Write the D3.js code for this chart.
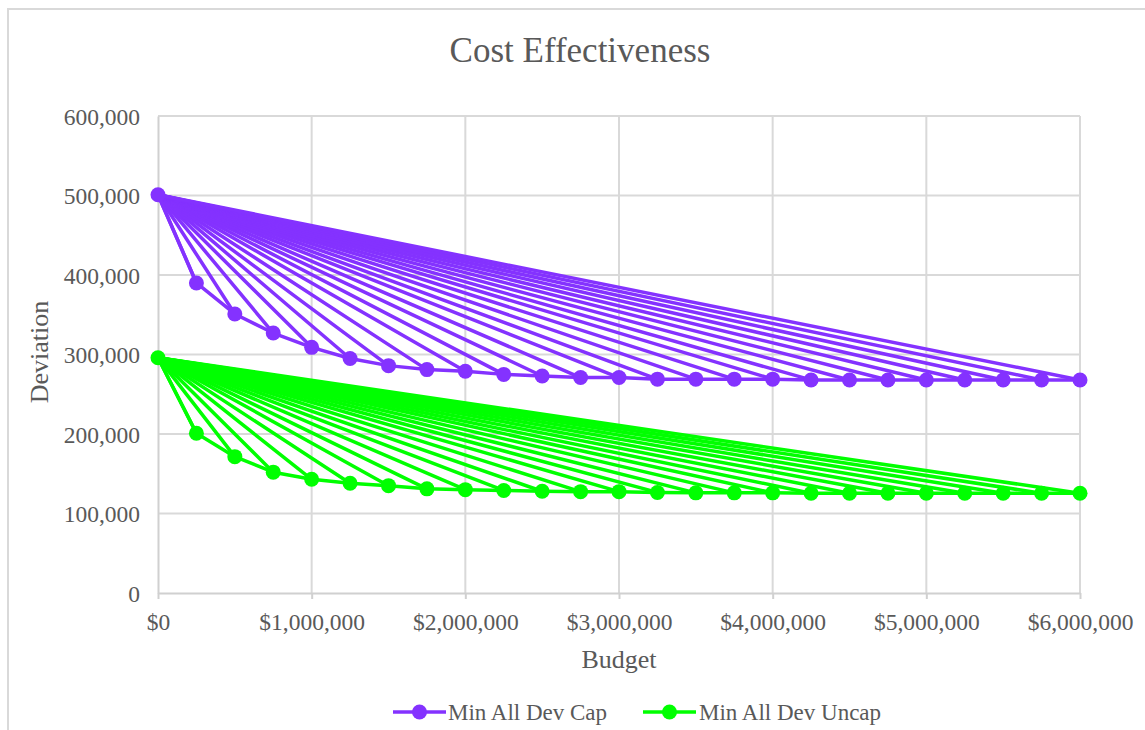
<!DOCTYPE html>
<html>
<head>
<meta charset="utf-8">
<script src="https://cdn.jsdelivr.net/npm/d3@7"></script>
<style>
  html, body { margin: 0; padding: 0; background: #fff; }
  svg { display: block; }
</style>
</head>
<body>
<svg id="chart" width="1145" height="730"></svg>
<script>
// ---- data ----
const budgets = [0, 250000, 500000, 750000, 1000000, 1250000, 1500000, 1750000, 2000000,
  2250000, 2500000, 2750000, 3000000, 3250000, 3500000, 3750000, 4000000, 4250000,
  4500000, 4750000, 5000000, 5250000, 5500000, 5750000, 6000000];
const capDev = [501000, 390000, 351000, 327000, 309000, 295000, 286000, 281000, 279000,
  275000, 273000, 271000, 271000, 269000, 269000, 269000, 269000, 268000,
  268000, 268000, 268000, 268000, 268000, 268000, 268000];
const uncapDev = [296000, 201000, 171500, 152000, 143000, 138000, 135000, 131000, 130000,
  129000, 128000, 127500, 127500, 126500, 126000, 126000, 126000, 125500,
  125500, 125500, 125500, 125500, 125500, 125500, 125500];
const seriesNames = ["Min All Dev Cap", "Min All Dev Uncap"];
const seriesColors = ["#8432FF", "#00FF00"];
const xTicks = [0, 1000000, 2000000, 3000000, 4000000, 5000000, 6000000];
const yTicks = [0, 100000, 200000, 300000, 400000, 500000, 600000];

// ---- layout ----
const FONT = "'Liberation Serif', 'Times New Roman', Times, serif";
const TXT = "#595959";
const svg = d3.select("#chart");
const plot = { left: 158, right: 1080, top: 116, bottom: 593 };
const x = d3.scaleLinear().domain([0, 6000000]).range([plot.left, plot.right]);
const y = d3.scaleLinear().domain([0, 600000]).range([plot.bottom, plot.top]);

function label(sel, size) {
  return sel.style("font-family", FONT).style("font-size", size + "px").style("fill", TXT);
}

// outer chart border
svg.append("rect").attr("x", 8).attr("y", 9).attr("width", 1160).attr("height", 760)
  .attr("fill", "none").attr("stroke", "#d9d9d9").attr("stroke-width", 2);

// title
label(svg.append("text").attr("x", 580).attr("y", 62).attr("text-anchor", "middle"), 35)
  .text("Cost Effectiveness");

// gridlines
const grid = svg.append("g");
grid.selectAll("line.h").data(yTicks.filter(d => d > 0)).enter().append("line")
  .attr("x1", plot.left).attr("x2", plot.right)
  .attr("y1", d => y(d)).attr("y2", d => y(d))
  .attr("stroke", "#d9d9d9").attr("stroke-width", 2);
grid.selectAll("line.v").data(xTicks.filter(d => d > 0)).enter().append("line")
  .attr("y1", plot.top).attr("y2", plot.bottom)
  .attr("x1", d => x(d)).attr("x2", d => x(d))
  .attr("stroke", "#d9d9d9").attr("stroke-width", 2);

// axes
const xAxis = svg.append("g").attr("transform", `translate(0,${plot.bottom})`)
  .call(d3.axisBottom(x).tickValues(xTicks).tickSize(6).tickSizeOuter(0)
    .tickFormat(d => "$" + d3.format(",")(d)));
xAxis.select(".domain").attr("stroke", "#d0d0d0").attr("stroke-width", 2);
xAxis.selectAll(".tick line").attr("stroke", "#d0d0d0").attr("stroke-width", 2);
label(xAxis.selectAll(".tick text").attr("y", 37).attr("dy", 0), 23.5);

const yAxis = svg.append("g").attr("transform", `translate(${plot.left},0)`)
  .call(d3.axisLeft(y).tickValues(yTicks).tickSize(0).tickSizeOuter(0)
    .tickFormat(d3.format(",")));
yAxis.select(".domain").attr("stroke", "#d0d0d0").attr("stroke-width", 2);
label(yAxis.selectAll(".tick text").attr("x", -18).attr("dy", "0.34em"), 23.5);

// axis titles
label(svg.append("text").attr("x", 619).attr("y", 668).attr("text-anchor", "middle"), 26)
  .text("Budget");
label(svg.append("text").attr("transform", "translate(48,352) rotate(-90)").attr("text-anchor", "middle"), 26)
  .text("Deviation");

// series
const line = d3.line().x(d => x(d[0])).y(d => y(d[1]));
[capDev, uncapDev].forEach((vals, si) => {
  const pts = budgets.map((b, i) => [b, vals[i]]);
  const g = svg.append("g");
  const color = seriesColors[si];
  // spokes from origin point to each budget point
  pts.slice(1).forEach(p => {
    g.append("path").attr("d", line([pts[0], p])).attr("fill", "none")
      .attr("stroke", color).attr("stroke-width", 3.5).attr("stroke-linecap", "round");
  });
  // chain through consecutive points
  g.append("path").attr("d", line(pts)).attr("fill", "none")
    .attr("stroke", color).attr("stroke-width", 3.5).attr("stroke-linejoin", "round");
  g.selectAll("circle").data(pts).enter().append("circle")
    .attr("cx", d => x(d[0])).attr("cy", d => y(d[1])).attr("r", 7.5)
    .attr("fill", color);
});

// legend
const legendItems = [{ x: 393, tx: 448 }, { x: 643, tx: 699 }];
legendItems.forEach((it, i) => {
  const g = svg.append("g");
  g.append("line").attr("x1", it.x).attr("x2", it.x + 53).attr("y1", 712).attr("y2", 712)
    .attr("stroke", seriesColors[i]).attr("stroke-width", 3.5);
  g.append("circle").attr("cx", it.x + 26.5).attr("cy", 712).attr("r", 7.5).attr("fill", seriesColors[i]);
  label(g.append("text").attr("x", it.tx).attr("y", 720), 23).text(seriesNames[i]);
});
</script>
</body>
</html>
